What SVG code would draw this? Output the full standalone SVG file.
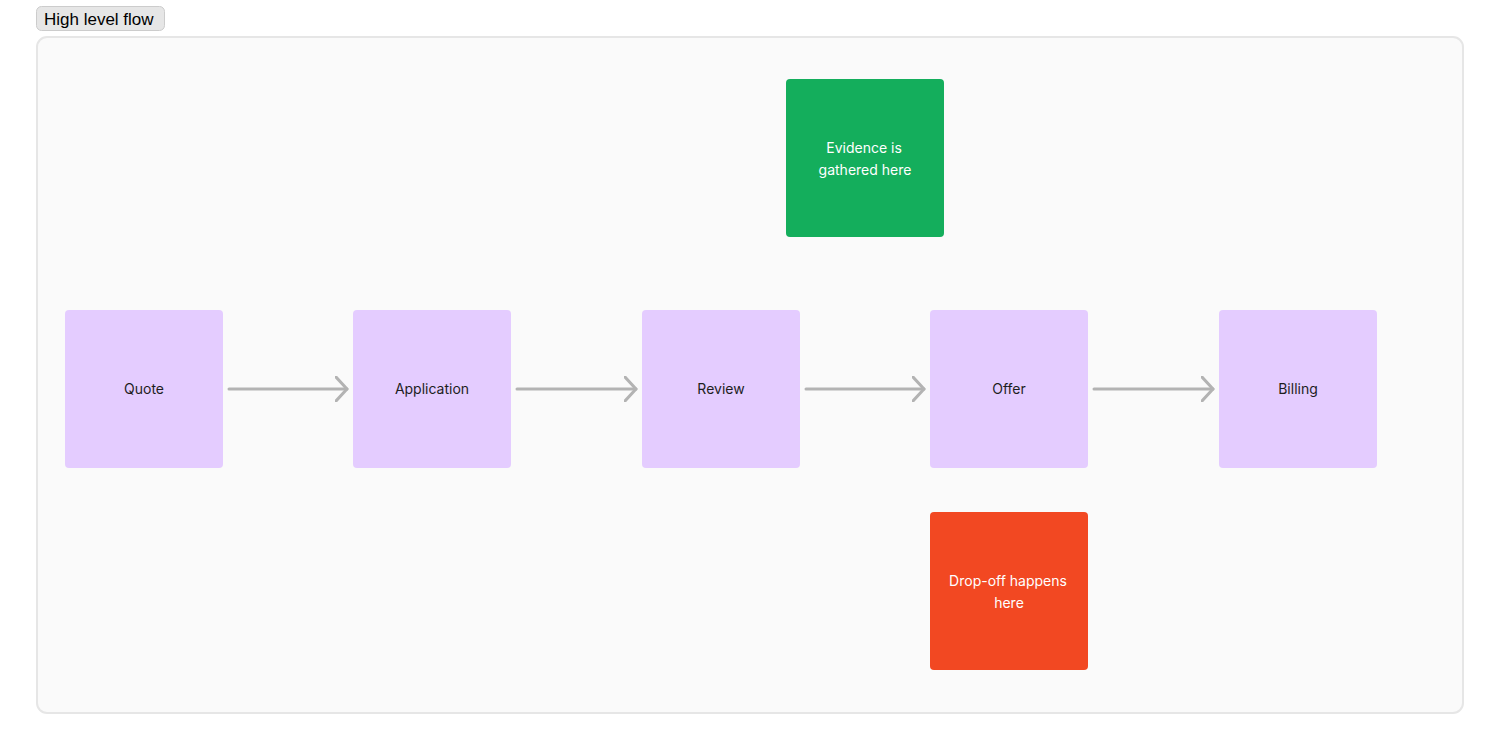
<svg xmlns="http://www.w3.org/2000/svg" width="1500" height="750" viewBox="0 0 1500 750">
<defs>
<style>
.node{fill:#e4ccff}
.t{font-family:Inter,"Noto Sans",sans-serif;font-size:14px;text-anchor:middle;fill:#1e1e1e}
.w{fill:#ffffff}
.c{stroke:#b3b3b3;stroke-width:3;fill:none;stroke-linecap:round;stroke-linejoin:round}
</style>
<marker id="chev" viewBox="0 0 14 26" refX="12" refY="13" markerWidth="14" markerHeight="26" markerUnits="userSpaceOnUse" orient="auto">
<path d="M1,1 L12,13 L1,25" fill="none" stroke="#b3b3b3" stroke-width="3" stroke-linecap="round" stroke-linejoin="round"/>
</marker>
</defs>
<rect width="1500" height="750" fill="#ffffff"/>
<g id="frame">
<rect x="37" y="37" width="1426" height="676" rx="10" fill="#fafafa" stroke="#e6e6e6" stroke-width="2"/>
<rect x="36.5" y="6.5" width="128" height="24" rx="5" fill="#e6e6e6" stroke="#cccccc" stroke-width="1"/>
<text x="44" y="25" font-family="Liberation Sans,Arial,sans-serif" font-size="17" fill="#000000">High level flow</text>
</g>
<g id="connectors">
<line class="c" x1="229" y1="389" x2="347" y2="389" marker-end="url(#chev)"/>
<line class="c" x1="517" y1="389" x2="636" y2="389" marker-end="url(#chev)"/>
<line class="c" x1="806" y1="389" x2="924" y2="389" marker-end="url(#chev)"/>
<line class="c" x1="1094" y1="389" x2="1213" y2="389" marker-end="url(#chev)"/>
</g>
<g id="quote"><rect class="node" x="65" y="310" width="158" height="158" rx="4"/><text class="t" x="144" y="394">Quote</text></g>
<g id="application"><rect class="node" x="353" y="310" width="158" height="158" rx="4"/><text class="t" x="432" y="394">Application</text></g>
<g id="review"><rect class="node" x="642" y="310" width="158" height="158" rx="4"/><text class="t" x="721" y="394">Review</text></g>
<g id="offer"><rect class="node" x="930" y="310" width="158" height="158" rx="4"/><text class="t" x="1009" y="394">Offer</text></g>
<g id="billing"><rect class="node" x="1219" y="310" width="158" height="158" rx="4"/><text class="t" x="1298" y="394">Billing</text></g>
<g id="evidence"><rect x="786" y="79" width="158" height="158" rx="4" fill="#14ae5c"/><text class="t w" x="865" y="153"><tspan x="864" y="153">Evidence is</tspan><tspan x="865" y="175">gathered here</tspan></text></g>
<g id="dropoff"><rect x="930" y="512" width="158" height="158" rx="4" fill="#f24822"/><text class="t w" x="1009" y="586"><tspan x="1008" y="586">Drop-off happens</tspan><tspan x="1009" y="608">here</tspan></text></g>
</svg>
